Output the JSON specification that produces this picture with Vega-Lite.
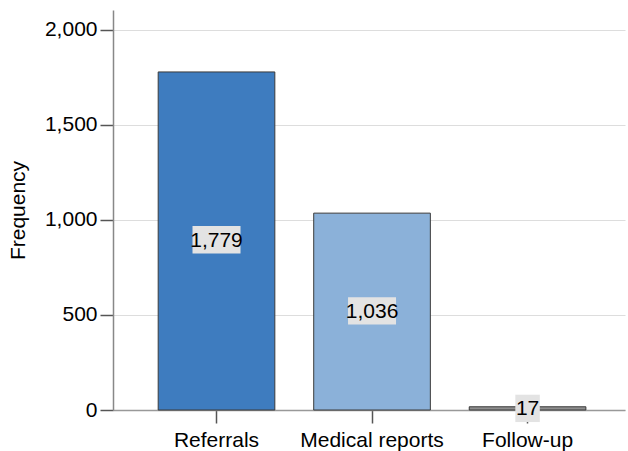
{
  "$schema": "https://vega.github.io/schema/vega-lite/v6.json",
  "width": 512,
  "height": 400,
  "autosize": {"type": "none"},
  "padding": {"left": 113, "top": 10, "right": 3, "bottom": 41},
  "background": "white",
  "config": {
    "view": {"stroke": null},
    "font": "Liberation Sans",
    "axis": {"labelFont": "Liberation Sans", "titleFont": "Liberation Sans", "labelColor": "#000", "titleColor": "#000"}
  },
  "data": {
    "values": [
      {"category": "Referrals", "frequency": 1779, "label": "1,779"},
      {"category": "Medical reports", "frequency": 1036, "label": "1,036"},
      {"category": "Follow-up", "frequency": 17, "label": "17"}
    ]
  },
  "encoding": {
    "x": {
      "field": "category", "type": "nominal", "sort": null,
      "scale": {"paddingInner": 0.25, "paddingOuter": 0.271, "align": 0.536},
      "axis": {
        "title": null, "labelAngle": 0, "labelFontSize": 21, "labelPadding": 6,
        "tickSize": 13, "tickColor": "#555", "tickWidth": 1.5,
        "domainColor": "#999", "domainWidth": 1.5
      }
    }
  },
  "layer": [
    {
      "mark": {"type": "bar", "stroke": "#3a3a3a", "strokeWidth": 1},
      "encoding": {
        "y": {
          "field": "frequency", "type": "quantitative",
          "scale": {"domain": [0, 2105], "nice": false},
          "axis": {
            "title": "Frequency", "titleFontSize": 21, "titleFontWeight": "normal", "titlePadding": 16,
            "values": [0, 500, 1000, 1500, 2000], "format": ",.0f",
            "labelFontSize": 21, "labelPadding": 3,
            "tickSize": 13, "tickColor": "#555", "tickWidth": 1.5,
            "domainColor": "#888", "domainWidth": 1.5,
            "grid": true, "gridColor": "#dddddd", "gridWidth": 1.2
          }
        },
        "fill": {
          "field": "category", "type": "nominal", "legend": null,
          "scale": {"domain": ["Referrals", "Medical reports", "Follow-up"], "range": ["#3e7cbf", "#8bb1d9", "#8f8f8f"]}
        }
      }
    },
    {
      "mark": {"type": "point", "filled": true, "fill": "#e3e3e3", "opacity": 1, "strokeWidth": 0, "size": 2304},
      "encoding": {
        "y": {"field": "frequency", "type": "quantitative", "scale": {"domain": [0, 4180], "nice": false}, "axis": null},
        "shape": {
          "field": "category", "type": "nominal", "legend": null,
          "scale": {
            "domain": ["Referrals", "Medical reports", "Follow-up"],
            "range": ["M-1,-0.57H1V0.57H-1Z", "M-1,-0.57H1V0.57H-1Z", "M-0.51,-0.57H0.51V0.57H-0.51Z"]
          }
        }
      }
    },
    {
      "mark": {"type": "text", "fontSize": 21, "color": "#000", "baseline": "middle", "align": "center", "dy": 1},
      "encoding": {
        "y": {"field": "frequency", "type": "quantitative", "scale": {"domain": [0, 4180], "nice": false}, "axis": null},
        "text": {"field": "label"}
      }
    }
  ],
  "resolve": {"scale": {"y": "independent", "fill": "independent", "shape": "independent"}}
}
